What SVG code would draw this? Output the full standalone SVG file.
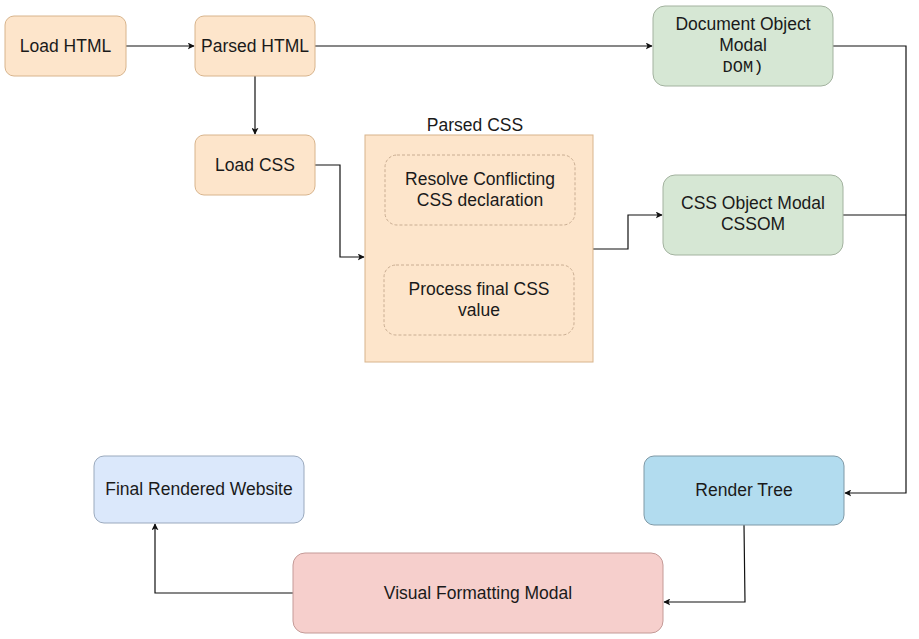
<svg xmlns="http://www.w3.org/2000/svg" width="919" height="639" viewBox="0 0 919 639">
<style>
.t{font-family:"Liberation Sans",Arial,sans-serif;font-size:17.5px;fill:#1a1a1a;text-anchor:middle}
.m{font-family:"Liberation Mono","DejaVu Sans Mono",monospace;font-size:17px;fill:#1a1a1a;text-anchor:middle}
.or{fill:#fde5cb;stroke:#d8b48c;stroke-width:1}
.gr{fill:#d6e7d4;stroke:#a3b29f;stroke-width:1}
.bl{fill:#b2dcef;stroke:#7f99a6;stroke-width:1}
.lb{fill:#dbe8fb;stroke:#9aa9bd;stroke-width:1}
.rd{fill:#f6cfcc;stroke:#c49a97;stroke-width:1}
.dash{fill:#fde5cb;stroke:#c9ad92;stroke-width:1;stroke-dasharray:3 2}
.c{fill:none;stroke:#111;stroke-width:1.2}
</style>
<defs>
<marker id="a" viewBox="0 0 10 10" refX="9" refY="5" markerWidth="7" markerHeight="7" markerUnits="userSpaceOnUse" orient="auto">
<path d="M0,0 L10,5 L0,10 L2.5,5 z" fill="#111"/>
</marker>
</defs>
<rect width="919" height="639" fill="#fff"/>
<g id="connectors">
<path class="c" d="M126,46 H194" marker-end="url(#a)"/>
<path class="c" d="M315,46 H652" marker-end="url(#a)"/>
<path class="c" d="M255,76 V134" marker-end="url(#a)"/>
<path class="c" d="M315,165 H340 V257 H364" marker-end="url(#a)"/>
<path class="c" d="M593,249 H628 V215 H662" marker-end="url(#a)"/>
<path class="c" d="M833,46 H906 V493 H845" marker-end="url(#a)"/>
<path class="c" d="M843,215 H906"/>
<path class="c" d="M744,525 L745,602 H664" marker-end="url(#a)"/>
<path class="c" d="M293,593 H155 V524" marker-end="url(#a)"/>
</g>
<g id="load-html">
<rect class="or" x="5" y="16" width="121" height="60" rx="9"/>
<text class="t" x="65.5" y="52">Load HTML</text>
</g>
<g id="parsed-html">
<rect class="or" x="195" y="16" width="120" height="60" rx="9"/>
<text class="t" x="255" y="52">Parsed HTML</text>
</g>
<g id="load-css">
<rect class="or" x="195" y="135" width="120" height="60" rx="9"/>
<text class="t" x="255" y="171">Load CSS</text>
</g>
<g id="parsed-css">
<rect class="or" x="365" y="135" width="228" height="227"/>
<text class="t" x="475" y="131">Parsed CSS</text>
</g>
<g id="resolve">
<rect class="dash" x="385" y="155" width="190" height="70" rx="12"/>
<text class="t" x="480" y="185">Resolve Conflicting</text>
<text class="t" x="480" y="206">CSS declaration</text>
</g>
<g id="process">
<rect class="dash" x="384" y="265" width="190" height="70" rx="12"/>
<text class="t" x="479" y="295">Process final CSS</text>
<text class="t" x="479" y="316">value</text>
</g>
<g id="dom">
<rect class="gr" x="653" y="6" width="180" height="80" rx="12"/>
<text class="t" x="743" y="30">Document Object</text>
<text class="t" x="743" y="51">Modal</text>
<text class="m" x="743" y="72">DOM)</text>
</g>
<g id="cssom">
<rect class="gr" x="663" y="175" width="180" height="80" rx="12"/>
<text class="t" x="753" y="209">CSS Object Modal</text>
<text class="t" x="753" y="230">CSSOM</text>
</g>
<g id="render-tree">
<rect class="bl" x="644" y="456" width="200" height="69" rx="10"/>
<text class="t" x="744" y="496">Render Tree</text>
</g>
<g id="final">
<rect class="lb" x="94" y="456" width="210" height="67" rx="10"/>
<text class="t" x="199" y="495">Final Rendered Website</text>
</g>
<g id="visual">
<rect class="rd" x="293" y="553" width="370" height="80" rx="12"/>
<text class="t" x="478" y="599">Visual Formatting Modal</text>
</g>
</svg>
